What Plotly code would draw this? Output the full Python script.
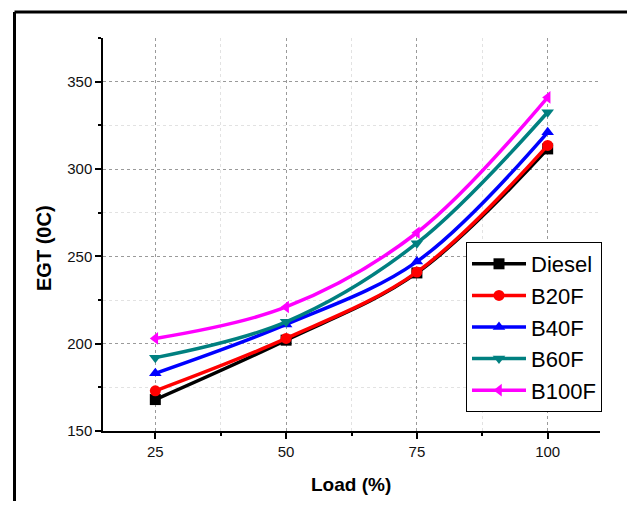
import plotly.graph_objects as go

loads = [25, 50, 75, 100]
series_names = ["Diesel", "B20F", "B40F", "B60F", "B100F"]
diesel = [168, 202, 240.5, 311.5]
b20f = [173, 203, 241, 313.5]
b40f = [183, 211, 247, 321]
b60f = [192, 212.5, 257.5, 332.5]
b100f = [203, 221, 263.5, 341]
series_values = [diesel, b20f, b40f, b60f, b100f]
colors = ["#000000", "#ff0000", "#0000ff", "#008080", "#ff00ff"]
symbols = ["square", "circle", "triangle-up", "triangle-down", "triangle-left"]
y_ticks = [150, 200, 250, 300, 350]
x_ticks = [25, 50, 75, 100]

FONT = "Liberation Sans, Arial, sans-serif"

fig = go.Figure()
for name, vals, c, s in zip(series_names, series_values, colors, symbols):
    fig.add_trace(go.Scatter(
        x=loads, y=vals, name=name, mode="lines+markers",
        line=dict(color=c, width=3.5, shape="spline"),
        marker=dict(symbol=s, size=11, color=c),
    ))

# page has an 8px body margin; work in page pixel coordinates
OFF = 8
W, H = 627, 493
plot_left, plot_right, plot_top, plot_bottom = 103, 600, 38, 431
L = plot_left - OFF
T = plot_top - OFF
R = W - (plot_right - OFF)
B = H - (plot_bottom - OFF)
pw, ph = W - L - R, H - T - B

def px_x(x):
    return (x - OFF - L) / pw

def px_y(y):
    return (H - B - (y - OFF)) / ph

axis_common = dict(
    showline=True, linecolor="black", linewidth=1.5,
    ticks="outside", ticklen=6, tickwidth=1.5, tickcolor="black",
    showgrid=True, gridcolor="#9a9a9a", griddash="dot", gridwidth=1,
    zeroline=False, mirror=False,
    tickfont=dict(family=FONT, size=15, color="#111111"),
)

fig.update_xaxes(
    range=[15, 110], tickvals=x_ticks, ticktext=[str(v) for v in x_ticks],
    minor=dict(dtick=12.5, tick0=0, ticks="outside", ticklen=3, tickcolor="black",
               showgrid=True, gridcolor="#e2e2e2", griddash="dot"),
    **axis_common,
)
fig.update_yaxes(
    range=[150, 375], tickvals=y_ticks, ticktext=[str(v) for v in y_ticks],
    minor=dict(dtick=25, tick0=0, ticks="outside", ticklen=3, tickcolor="black",
               showgrid=True, gridcolor="#e2e2e2", griddash="dot"),
    **axis_common,
)

# outer frame (left, top, right)
fl, fr, ft, fb = px_x(14.5), px_x(630), px_y(12), px_y(560)
for x0, y0, x1, y1 in [(fl, fb, fl, ft), (fl, ft, fr, ft), (fr, ft, fr, fb)]:
    fig.add_shape(type="line", xref="paper", yref="paper", x0=x0, y0=y0, x1=x1, y1=y1,
                  line=dict(color="black", width=3))

fig.add_annotation(text="<b>EGT (0C)</b>", xref="paper", yref="paper",
                   x=px_x(44), y=px_y(248), textangle=-90, showarrow=False,
                   xanchor="center", yanchor="middle",
                   font=dict(family=FONT, size=20, color="black"))
fig.add_annotation(text="<b>Load (%)</b>", xref="paper", yref="paper",
                   x=px_x(351), y=px_y(484), showarrow=False,
                   xanchor="center", yanchor="middle",
                   font=dict(family=FONT, size=19, color="black"))

fig.update_layout(
    width=W, height=H,
    margin=dict(l=L, r=R, t=T, b=B),
    paper_bgcolor="white", plot_bgcolor="white",
    showlegend=True,
    legend=dict(x=px_x(466), y=px_y(242), xanchor="left", yanchor="top",
                bgcolor="white", bordercolor="black", borderwidth=1,
                font=dict(family=FONT, size=22, color="black"),
                itemwidth=54, tracegroupgap=0),
    font=dict(family=FONT),
)

fig.write_html("out.html")
